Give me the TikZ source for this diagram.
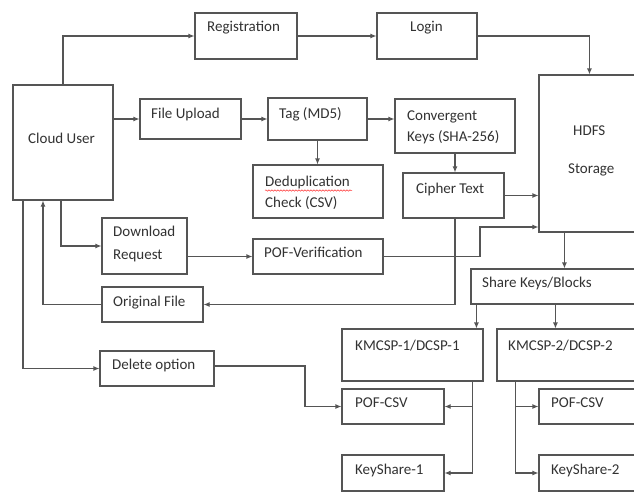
\documentclass[tikz,border=0pt]{standalone}
\usepackage{fontspec}
\setmainfont{Carlito}
\usetikzlibrary{arrows.meta,fit,decorations.pathmorphing}
\definecolor{linec}{RGB}{85,85,85}
\definecolor{txtc}{RGB}{50,50,50}
\begin{document}
\begin{tikzpicture}[x=1pt,y=-1pt,
 box/.style={draw=linec, line width=1.1pt, inner sep=0pt},
 txt/.style={anchor=west, inner sep=0pt, text=txtc, font=\fontsize{15}{17}\selectfont, text height=10pt, text depth=3pt},
 arr/.style={draw=linec, line width=1.1pt, -{Latex[length=6pt,width=5pt]}},
 ln/.style={draw=linec, line width=1.1pt}]
\clip (0,0) rectangle (634,493);
\fill[white] (0,0) rectangle (634,493);
% boxes
\node[box, fit={(13,85) (113,200)}] (cu) {};
\node[box, fit={(195,13) (297,59)}] (reg) {};
\node[box, fit={(377,13) (477,59)}] (login) {};
\node[box, fit={(539,75) (650,232)}] (hdfs) {};
\node[box, fit={(140,99) (241,139)}] (fu) {};
\node[box, fit={(268,98) (367,140)}] (tag) {};
\node[box, fit={(395,99) (515,153)}] (conv) {};
\node[box, fit={(253,165) (383,218)}] (dedup) {};
\node[box, fit={(403,173) (504,218)}] (ciph) {};
\node[box, fit={(102,218) (187,274)}] (dl) {};
\node[box, fit={(253,239) (383,274)}] (pofv) {};
\node[box, fit={(102,287) (203,322)}] (orig) {};
\node[box, fit={(100,351) (214,386)}] (del) {};
\node[box, fit={(471,269) (650,304)}] (share) {};
\node[box, fit={(342,329) (483,381)}] (kmc1) {};
\node[box, fit={(497,329) (650,381)}] (kmc2) {};
\node[box, fit={(342,389) (444,424)}] (pofc1) {};
\node[box, fit={(539,389) (650,424)}] (pofc2) {};
\node[box, fit={(342,455) (444,491)}] (ks1) {};
\node[box, fit={(539,455) (650,491)}] (ks2) {};
% texts
\node[txt] (tcu) at (28,140) {Cloud User};
\node[txt] (treg) at (207,28) {Registration};
\node[txt] (tlogin) at (410,28) {Login};
\node[txt] (tfu) at (151,115) {File Upload};
\node[txt] (ttag) at (279,115) {Tag (MD5)};
\node[txt] (tconv1) at (407,117) {Convergent};
\node[txt] (tconv2) at (407,138) {Keys (SHA-256)};
\node[txt] (thdfs1) at (573,132) {HDFS};
\node[txt] (thdfs2) at (568,170) {Storage};
\node[txt] (tded1) at (265,183) {Deduplication};
\node[txt] (tded2) at (265,204) {Check (CSV)};
\node[txt] (tciph) at (416,190) {Cipher Text};
\node[txt] (tdl1) at (113,233) {Download};
\node[txt] (tdl2) at (113,256) {Request};
\node[txt] (tpofv) at (264,254) {POF-Verification};
\node[txt] (torig) at (113,303) {Original File};
\node[txt] (tdel) at (112,366) {Delete option};
\node[txt] (tshare) at (482,284) {Share Keys/Blocks};
\node[txt] (tkmc1) at (355,347) {KMCSP-1/DCSP-1};
\node[txt] (tkmc2) at (508,347) {KMCSP-2/DCSP-2};
\node[txt] (tpofc1) at (355,404) {POF-CSV};
\node[txt] (tpofc2) at (551,404) {POF-CSV};
\node[txt] (tks1) at (355,471) {KeyShare-1};
\node[txt] (tks2) at (551,471) {KeyShare-2};
\coordinate (ul1) at (265,190.5);
\coordinate (ul2) at (352,190.5);
\draw[red!80, line width=0.5pt, decorate, decoration={snake, amplitude=0.7pt, segment length=3pt}]
  (ul1) -- (ul2);
% connectors
\coordinate (pk) at (480,227);
\coordinate (dk) at (305,366);
\draw[arr] (cu.north) |- (reg.west);
\draw[arr] (reg.east) -- (login.west);
\draw[arr] (login.east) -| ([xshift=51pt]hdfs.north west);
\draw[arr] (cu.east |- fu.west) -- (fu.west);
\draw[arr] (fu.east) -- (tag.west);
\draw[arr] (tag.east) -- (tag.east -| conv.west);
\draw[arr] (tag.south) -- (tag.south |- dedup.north);
\draw[arr] (conv.south) -- (conv.south |- ciph.north);
\draw[arr] (ciph.east) -- (ciph.east -| hdfs.west);
\draw[arr] (conv.south |- ciph.south) |- (orig.east);
\draw[arr] (orig.west) -| ([xshift=-20pt]cu.south);
\draw[arr] ([xshift=-2pt]cu.south) |- (dl.west);
\draw[arr] (dl.east |- pofv.west) -- (pofv.west);
\draw[arr] (pofv.east) -| (pk) -- (pk -| hdfs.west);
\draw[arr] ([xshift=26pt]hdfs.south west) -- ([xshift=26pt]hdfs.south west |- share.north);
\draw[arr] ([xshift=6pt]share.south west) -- ([xshift=6pt]share.south west |- kmc1.north);
\draw[arr] ([xshift=85pt]share.south west) -- ([xshift=85pt]share.south west |- kmc2.north);
\draw[arr] ([xshift=-40pt]cu.south) |- (del.west);
\draw[arr] (del.east |- dk) -- (dk) |- (pofc1.west);
\draw[arr] ([xshift=-11pt]kmc1.south east) |- (ks1.east);
\draw[arr] ([xshift=-11pt]kmc1.south east |- pofc1.east) -- (pofc1.east);
\draw[arr] ([xshift=19pt]kmc2.south west) |- (ks2.west);
\draw[arr] ([xshift=19pt]kmc2.south west |- pofc2.west) -- (pofc2.west);
\end{tikzpicture}
\end{document}
